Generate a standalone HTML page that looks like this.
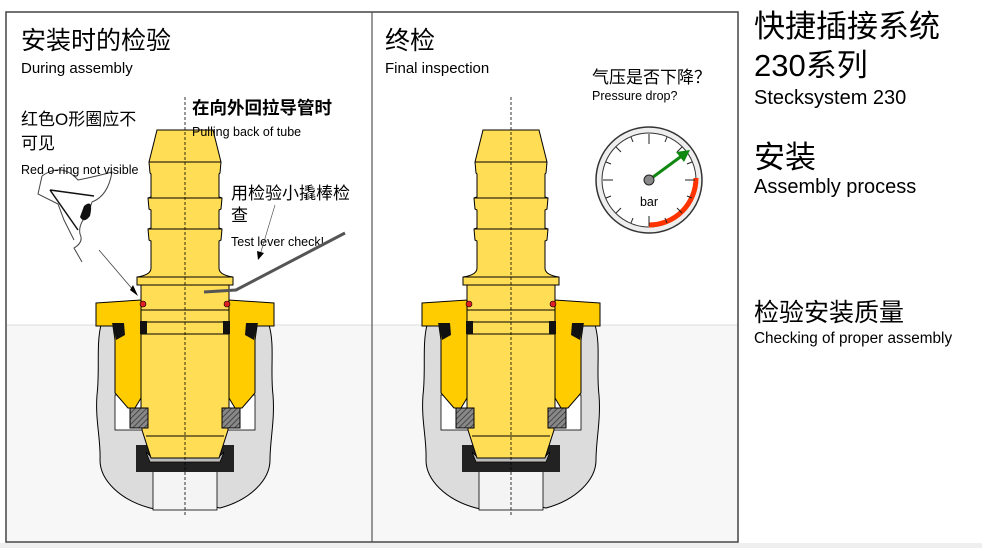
<!DOCTYPE html>
<html><head><meta charset="utf-8"><style>
body{margin:0;width:982px;height:548px;overflow:hidden;background:#fff;font-family:"Liberation Sans","Noto Sans CJK SC",sans-serif;}
svg{position:absolute;left:0;top:0}
</style></head><body>
<svg width="982" height="548" viewBox="0 0 982 548" font-family="Liberation Sans, Noto Sans CJK SC, sans-serif">
<defs>
<pattern id="h" width="4" height="4" patternUnits="userSpaceOnUse" patternTransform="rotate(45)"><rect width="4" height="4" fill="#888"/><line x1="0" y1="0" x2="0" y2="4" stroke="#333" stroke-width="1.5"/></pattern>
<g id="fit">
 <path d="M101,325 C96,345 100,370 97,395 C95,420 101,440 100,460 C100,480 120,500 150,508 C165,512 175,504 185,508 C195,512 205,504 220,508 C250,500 270,480 270,460 C270,440 275,420 273,395 C270,370 275,345 269,325 Z" fill="#dcdcdc" stroke="#000" stroke-width="1"/>
 <rect x="153" y="470" width="64" height="40" fill="#f4f4f4" stroke="#000" stroke-width="0.8"/>
 <rect x="115" y="395" width="140" height="35" fill="#fff" stroke="#000" stroke-width="0.8"/>
 <path d="M136,445 H234 V472 H136 Z" fill="#222"/>
 <path d="M146,452 L150,462 H220 L224,452 L218,458 H152 Z" fill="#bbb" stroke="#000" stroke-width="0.8"/>
 <path d="M141,285 H229 V408 H228 V430 L219,458 H151 L142,430 V408 H141 Z" fill="#ffdd55" stroke="#000" stroke-width="1"/>
 <line x1="146" y1="436" x2="224" y2="436" stroke="#000"/>
 <line x1="141" y1="310" x2="229" y2="310" stroke="#000"/>
 <line x1="141" y1="322" x2="229" y2="322" stroke="#000"/>
 <line x1="141" y1="334" x2="229" y2="334" stroke="#000"/>
 <rect x="130" y="408" width="18" height="20" fill="url(#h)" stroke="#000"/>
 <rect x="222" y="408" width="18" height="20" fill="url(#h)" stroke="#000"/>
 <path d="M96,303 L141,300 V398 L135,408 H128 L115,393 V340 L113,326 H96 Z" fill="#ffcc00" stroke="#000" stroke-width="1"/>
 <path d="M274,303 L229,300 V398 L235,408 H242 L255,393 V340 L257,326 H274 Z" fill="#ffcc00" stroke="#000" stroke-width="1"/>
 <path d="M112,323 H124 L125,335 L116,340 Z" fill="#111"/>
 <path d="M258,323 H246 L245,335 L254,340 Z" fill="#111"/>
 <rect x="140" y="321" width="7" height="13" fill="#111"/>
 <rect x="223" y="321" width="7" height="13" fill="#111"/>
 <circle cx="143" cy="304" r="3" fill="#e02020" stroke="#000" stroke-width="0.6"/>
 <circle cx="227" cy="304" r="3" fill="#e02020" stroke="#000" stroke-width="0.6"/>
 <path d="M157,130 H213 L221,162 L220,173 L219,174 V197 L222,198 L221,209 L219,210 V228 L222,229 L221,240 L219,241 V268 Q219,275 233,277 V285 H137 V277 Q151,275 151,268 V241 L149,240 L148,229 L151,228 V210 L149,209 L148,198 L151,197 V174 L150,173 L149,162 Z" fill="#ffdd55" stroke="#000" stroke-width="1"/>
 <line x1="149" y1="162" x2="221" y2="162" stroke="#000"/>
 <line x1="148" y1="198" x2="222" y2="198" stroke="#000"/>
 <line x1="148" y1="229" x2="222" y2="229" stroke="#000"/>
 <line x1="137" y1="277" x2="233" y2="277" stroke="#000"/>
 <line x1="185" y1="97" x2="185" y2="515" stroke="#000" stroke-width="0.8" stroke-dasharray="3,2"/>
</g>
</defs>
<rect x="0" y="543" width="982" height="5" fill="#eeeeee"/>
<rect x="7" y="325" width="731" height="216" fill="#f7f7f7"/>
<line x1="7" y1="325" x2="738" y2="325" stroke="#ddd"/>
<rect x="6" y="12" width="732" height="530" fill="none" stroke="#444" stroke-width="1.5"/>
<line x1="372" y1="12" x2="372" y2="542" stroke="#555" stroke-width="1.2"/>
<use href="#fit"/>
<use href="#fit" x="326"/>
<text x="21" y="49" font-size="25">安装时的检验</text>
<text x="21" y="73" font-size="15">During assembly</text>
<text x="21" y="125" font-size="17">红色O形圈应不</text>
<text x="21" y="149" font-size="17">可见</text>
<path d="M42,176 Q62,162 78,180 Q98,176 112,172 Q108,196 92,202 L88,214 Q78,224 80,234 Q84,242 74,248 L82,262 M42,176 L38,194 L58,204 L64,220 L74,240" fill="none" stroke="#444" stroke-width="1"/>
<path d="M50,190 L94,196 M50,190 L78,230" stroke="#111" stroke-width="1.5" fill="none"/>
<path d="M84,206 Q94,198 90,216 Q84,224 80,217 Z" fill="#111"/>
<text x="21" y="174" font-size="12.5">Red o-ring not visible</text>
<line x1="99" y1="250" x2="134" y2="291" stroke="#444" stroke-width="0.8"/>
<path d="M130,290 L138,296 L133,285 Z" fill="#000"/>
<text x="192" y="114" font-size="17.5" font-weight="bold">在向外回拉导管时</text>
<text x="192" y="136" font-size="12.5">Pulling back of tube</text>
<text x="231" y="199" font-size="17">用检验小撬棒检</text>
<text x="231" y="221" font-size="17">查</text>
<text x="231" y="246" font-size="12.5">Test lever check!</text>
<line x1="275" y1="205" x2="260" y2="255" stroke="#444" stroke-width="0.6"/>
<path d="M257,251 L258,260 L264,253 Z" fill="#000"/>
<polyline points="204,292 236,290 345,233" fill="none" stroke="#555" stroke-width="3"/>
<text x="385" y="49" font-size="25">终检</text>
<text x="385" y="73" font-size="15">Final inspection</text>
<text x="592" y="83" font-size="17">气压是否下降？</text>
<text x="592" y="100" font-size="12.5">Pressure drop?</text>
<circle cx="649" cy="180" r="53" fill="#eee" stroke="#333" stroke-width="1.5"/>
<circle cx="649" cy="180" r="47" fill="#fff" stroke="#333" stroke-width="1"/>
<path d="M649,227 A47,47 0 0 0 696,180" fill="none" stroke="#ff3300" stroke-width="5" transform="translate(0,-2)"/>
<g stroke="#222" stroke-width="1">
<line x1="649" y1="134" x2="649" y2="144"/><line x1="649" y1="226" x2="649" y2="216"/>
<line x1="603" y1="180" x2="613" y2="180"/><line x1="695" y1="180" x2="685" y2="180"/>
<line x1="616" y1="147" x2="621" y2="152"/><line x1="682" y1="147" x2="677" y2="152"/>
<line x1="616" y1="213" x2="621" y2="208"/><line x1="682" y1="213" x2="677" y2="208"/>
<line x1="631" y1="137" x2="633" y2="142"/><line x1="667" y1="137" x2="665" y2="142"/>
<line x1="606" y1="162" x2="611" y2="164"/><line x1="692" y1="162" x2="687" y2="164"/>
<line x1="606" y1="198" x2="611" y2="196"/><line x1="692" y1="198" x2="687" y2="196"/>
<line x1="631" y1="223" x2="633" y2="218"/><line x1="667" y1="223" x2="665" y2="218"/>
</g>
<line x1="649" y1="180" x2="683" y2="155" stroke="#118811" stroke-width="3"/>
<path d="M690,150 L676,152 L684,162 Z" fill="#118811"/>
<circle cx="649" cy="180" r="5" fill="#888" stroke="#222"/>
<text x="649" y="206" font-size="12.5" text-anchor="middle">bar</text>
<text x="754" y="37" font-size="31">快捷插接系统</text>
<text x="754" y="76" font-size="31">230系列</text>
<text x="754" y="104" font-size="20">Stecksystem 230</text>
<text x="754" y="168" font-size="31">安装</text>
<text x="754" y="193" font-size="20">Assembly process</text>
<text x="754" y="321" font-size="25">检验安装质量</text>
<text x="754" y="343" font-size="15.3">Checking of proper assembly</text>
</svg>
</body></html>
